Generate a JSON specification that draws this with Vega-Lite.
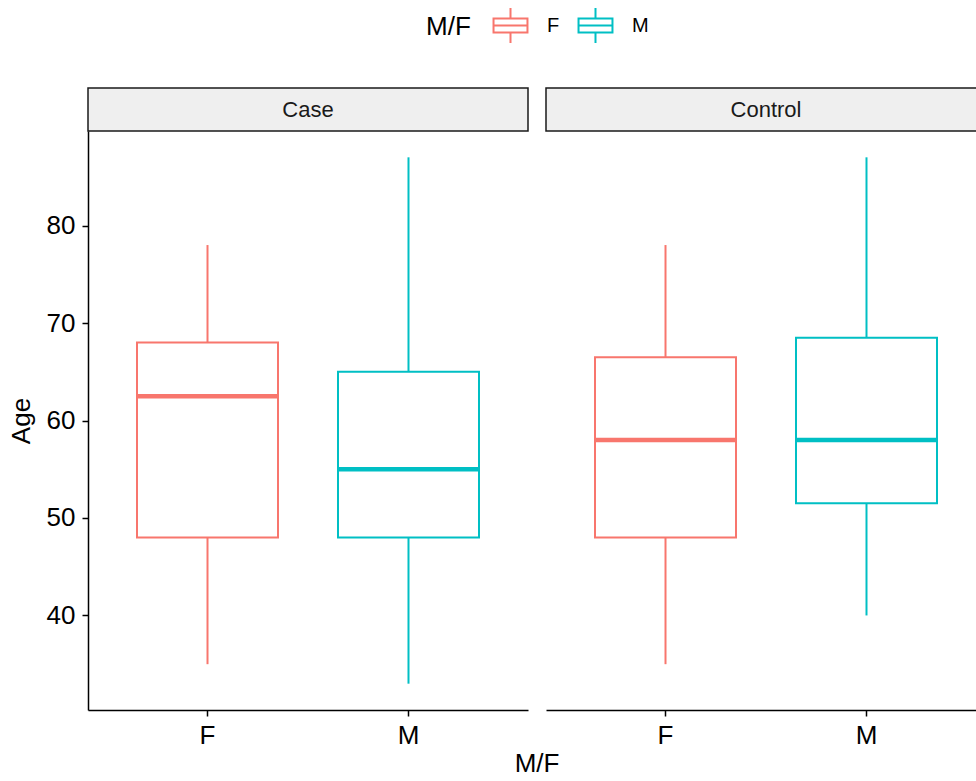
{
  "$schema": "https://vega.github.io/schema/vega-lite/v6.json",
  "padding": {"left": 8, "top": 7, "right": 5, "bottom": 5},
  "background": "white",
  "title": {"text": "M/F", "orient": "bottom", "anchor": "middle", "frame": "group", "fontSize": 26, "fontWeight": "normal", "color": "black", "font": "Liberation Sans", "offset": 3, "dx": 449},
  "datasets": {
    "boxes": [
      {"panel": "Case", "sex": "F", "min": 35, "q1": 48, "median": 62.5, "q3": 68, "max": 78},
      {"panel": "Case", "sex": "M", "min": 33, "q1": 48, "median": 55, "q3": 65, "max": 87},
      {"panel": "Control", "sex": "F", "min": 35, "q1": 48, "median": 58, "q3": 66.5, "max": 78},
      {"panel": "Control", "sex": "M", "min": 40, "q1": 51.5, "median": 58, "q3": 68.5, "max": 87}
    ]
  },
  "config": {
    "font": "Liberation Sans",
    "view": {"stroke": null},
    "axis": {
      "grid": false,
      "domainColor": "black",
      "tickColor": "black",
      "labelColor": "black",
      "titleColor": "black",
      "domainWidth": 1.5,
      "tickWidth": 1.5,
      "labelFontSize": 26,
      "titleFontSize": 26,
      "titleFontWeight": "normal",
      "labelFont": "Liberation Sans",
      "titleFont": "Liberation Sans"
    },
    "legend": {
      "labelFont": "Liberation Sans",
      "titleFont": "Liberation Sans"
    }
  },
  "spacing": 16,
  "hconcat": [
    {
      "bounds": "flush",
      "spacing": 0,
      "vconcat": [
        {
          "width": 440,
          "height": 43,
          "data": {"name": "boxes"},
          "transform": [{"filter": "datum.panel === 'Case' && datum.sex === 'F'"}],
          "view": {"fill": "#EFEFEF", "stroke": "#1a1a1a", "strokeWidth": 1.5},
          "mark": {"type": "text", "fontSize": 22, "color": "#1a1a1a", "font": "Liberation Sans"},
          "encoding": {"text": {"field": "panel", "type": "nominal"}}
        },
        {
          "width": 440,
          "height": 579,
          "data": {"name": "boxes"},
          "transform": [{"filter": "datum.panel === 'Case'"}],
          "encoding": {
            "x": {
              "field": "sex", "type": "nominal",
              "scale": {"domain": ["F", "M"], "paddingInner": 0.2985, "paddingOuter": 0.2438},
              "axis": {"title": null, "labelAngle": 0, "tickSize": 6, "labelPadding": 6}
            },
            "color": {
              "field": "sex", "type": "nominal",
              "scale": {"domain": ["F", "M"], "range": ["#F8766D", "#00BFC4"]},
              "legend": {
                "title": "M/F",
                "orient": "none",
                "legendX": 338,
                "legendY": -81,
                "direction": "horizontal",
                "titleOrient": "left",
                "titleFontSize": 26,
                "titleFontWeight": "normal",
                "titleColor": "black",
                "titlePadding": 21,
                "titleBaseline": "middle",
                "labelFontSize": 20,
                "labelColor": "black",
                "labelOffset": 18,
                "columnPadding": 14,
                "symbolType": "M -0.97 -0.4 H 0.97 V 0.4 H -0.97 Z M -0.97 0 H 0.97 M 0 -1 V -0.4 M 0 0.4 V 1",
                "symbolSize": 1225,
                "symbolStrokeWidth": 2,
                "symbolFillColor": "white"
              }
            }
          },
          "layer": [
            {
              "mark": {"type": "rule", "strokeWidth": 2},
              "encoding": {
                "y": {
                  "field": "min", "type": "quantitative", "title": "Age",
                  "scale": {"domain": [30.3, 89.7], "nice": false, "zero": false},
                  "axis": {"values": [40, 50, 60, 70, 80], "tickSize": 6, "labelPadding": 7, "titlePadding": 12}
                },
                "y2": {"field": "q1"}
              }
            },
            {
              "mark": {"type": "rule", "strokeWidth": 2},
              "encoding": {
                "y": {"field": "q3", "type": "quantitative", "title": "Age"},
                "y2": {"field": "max"}
              }
            },
            {
              "mark": {"type": "bar", "filled": false, "strokeWidth": 2},
              "encoding": {
                "y": {"field": "q1", "type": "quantitative", "title": "Age"},
                "y2": {"field": "q3"}
              }
            },
            {
              "mark": {"type": "bar", "filled": false, "strokeWidth": 4.5},
              "encoding": {
                "y": {"field": "median", "type": "quantitative", "title": "Age"},
                "y2": {"field": "median"}
              }
            }
          ]
        }
      ]
    },
    {
      "bounds": "flush",
      "spacing": 0,
      "vconcat": [
        {
          "width": 440,
          "height": 43,
          "data": {"name": "boxes"},
          "transform": [{"filter": "datum.panel === 'Control' && datum.sex === 'F'"}],
          "view": {"fill": "#EFEFEF", "stroke": "#1a1a1a", "strokeWidth": 1.5},
          "mark": {"type": "text", "fontSize": 22, "color": "#1a1a1a", "font": "Liberation Sans"},
          "encoding": {"text": {"field": "panel", "type": "nominal"}}
        },
        {
          "width": 440,
          "height": 579,
          "data": {"name": "boxes"},
          "transform": [{"filter": "datum.panel === 'Control'"}],
          "encoding": {
            "x": {
              "field": "sex", "type": "nominal",
              "scale": {"domain": ["F", "M"], "paddingInner": 0.2985, "paddingOuter": 0.2438},
              "axis": {"title": null, "labelAngle": 0, "tickSize": 6, "labelPadding": 6}
            },
            "color": {
              "field": "sex", "type": "nominal",
              "scale": {"domain": ["F", "M"], "range": ["#F8766D", "#00BFC4"]}
            }
          },
          "layer": [
            {
              "mark": {"type": "rule", "strokeWidth": 2},
              "encoding": {
                "y": {
                  "field": "min", "type": "quantitative",
                  "scale": {"domain": [30.3, 89.7], "nice": false, "zero": false},
                  "axis": null
                },
                "y2": {"field": "q1"}
              }
            },
            {
              "mark": {"type": "rule", "strokeWidth": 2},
              "encoding": {
                "y": {"field": "q3", "type": "quantitative", "axis": null},
                "y2": {"field": "max"}
              }
            },
            {
              "mark": {"type": "bar", "filled": false, "strokeWidth": 2},
              "encoding": {
                "y": {"field": "q1", "type": "quantitative", "axis": null},
                "y2": {"field": "q3"}
              }
            },
            {
              "mark": {"type": "bar", "filled": false, "strokeWidth": 4.5},
              "encoding": {
                "y": {"field": "median", "type": "quantitative", "axis": null},
                "y2": {"field": "median"}
              }
            }
          ]
        }
      ]
    }
  ]
}
